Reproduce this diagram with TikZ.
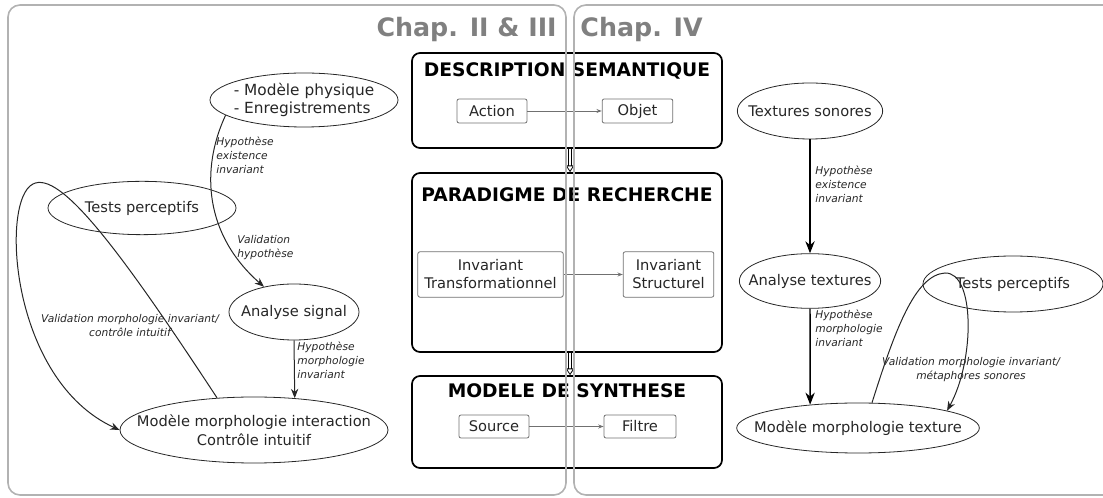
\documentclass[tikz,border=0pt]{standalone}
\usepackage{fontspec}
\setmainfont{DejaVu Sans}[ItalicFont={DejaVu Sans Oblique},BoldFont={DejaVu Sans Bold}]
\usepackage{tikz}
\usepackage{xcolor}
\usetikzlibrary{shapes.geometric,arrows.meta,positioning}
\definecolor{panelgray}{HTML}{B2B2B2}
\definecolor{chapgray}{HTML}{808080}
\definecolor{boxgray}{HTML}{707070}
\definecolor{inkgray}{HTML}{262626}
\tikzstyle{panel} = [draw=panelgray, line width=1.2pt, rounded corners=9pt]
\tikzstyle{chap} = [font=\fontsize{19}{22}\selectfont\bfseries, text=chapgray, inner sep=0pt]
\tikzstyle{bloc} = [rectangle, draw, line width=1.3pt, rounded corners=6pt]
\tikzstyle{titre} = [font=\fontsize{14}{16}\selectfont\bfseries, inner sep=0pt]
\tikzstyle{case} = [rectangle, draw=boxgray, rounded corners=1.5pt, minimum height=18pt, font=\fontsize{11}{13.5}\selectfont, text=inkgray, align=center, inner sep=1pt]
\tikzstyle{bulle} = [ellipse, draw=inkgray, inner xsep=-40pt, inner ysep=-10pt, font=\fontsize{11}{13.5}\selectfont, text=inkgray]
\tikzstyle{hyp} = [font=\fontsize{8}{10.5}\selectfont\itshape, text=inkgray, inner sep=0pt]
\tikzstyle{fleche} = [-{Stealth[length=7pt,width=5.5pt]}, draw=inkgray, line width=0.75pt]
\tikzstyle{grosse} = [-{Stealth[length=9pt,width=7pt]}, draw=black, line width=1.1pt]
\tikzstyle{petite} = [-{Stealth[length=4pt,width=3pt]}, draw=boxgray, line width=0.6pt]
\tikzstyle{creux} = [draw=black, double=white, double distance=2.2pt, line width=0.6pt, -{Triangle[open, length=5pt, width=6.5pt, line width=0.6pt]}]

\begin{document}
\begin{tikzpicture}[x=0.75pt,y=-0.75pt,>=Stealth,semithick]
  \useasboundingbox (0,0) rectangle (1103,498);

  \node[bloc, minimum width=232.5pt, minimum height=71.25pt] (desc) at (567,100.5) {};
  \node[bloc, minimum width=232.5pt, minimum height=134.25pt] (para) at (567,262.5) {};
  \node[bloc, minimum width=232.5pt, minimum height=69pt] (synth) at (567,422) {};
  \node[titre, anchor=base] (desc_T) at (567,77) {DESCRIPTION SEMANTIQUE};
  \node[titre, anchor=base] (para_T) at (567,201.5) {PARADIGME DE RECHERCHE};
  \node[titre, anchor=base] (synth_T) at (567,398) {MODELE DE SYNTHESE};

  \node[case, minimum width=52.5pt] (action) at (492,111) {Action};
  \node[case, minimum width=53pt] (objet) at (637.5,111) {Objet};
  \node[case, minimum width=109pt, minimum height=34pt] (inv_T) at (490.5,274.5) {Invariant\\Transformationnel};
  \node[case, minimum width=68pt, minimum height=34pt] (inv_S) at (668.5,274.5) {Invariant\\Structurel};
  \node[case, minimum width=52.5pt, minimum height=17.25pt] (source) at (494,426.5) {Source};
  \node[case, minimum width=54pt, minimum height=17.25pt] (filtre) at (640,426.5) {Filtre};

  \path (action) edge[petite] (objet);
  \path (inv_T) edge[petite] (inv_S);
  \path (source) edge[petite] (filtre);
  \draw[creux] ([xshift=2.25pt]desc.south) -- ([xshift=2.25pt]para.north);
  \draw[creux] ([xshift=2.25pt]para.south) -- ([xshift=2.25pt]synth.north);

  \node[bulle, minimum width=141pt, minimum height=40.5pt, align=left, font=\fontsize{11.5}{13.5}\selectfont] (phys) at (304,100) {- Modèle physique\\- Enregistrements};
  \node[bulle, minimum width=141pt, minimum height=40pt] (tests_L) at (142,208) {Tests perceptifs};
  \node[bulle, minimum width=97.5pt, minimum height=42pt] (ana_S) at (294,312) {Analyse signal};
  \node[bulle, minimum width=201pt, minimum height=49.5pt, align=center, font=\fontsize{11}{14}\selectfont] (morpho_I) at (254,430) {Modèle morphologie interaction\\Contrôle intuitif};

  \draw[fleche] (phys.191) .. controls (200,170) and (205,235) .. (ana_S.140);
  \path (ana_S.south) edge[fleche] (morpho_I.38);
  \draw[fleche] (morpho_I.139) .. controls (120,250) and (60,170) .. (33,184) .. controls (0,200) and (10,380) .. (morpho_I.west);
  \node[hyp, anchor=north west, align=left] (h_exist_L) at (216,137) {Hypothèse\\existence\\invariant};
  \node[hyp, anchor=north west, align=left] (h_valid_L) at (237,235) {Validation\\hypothèse};
  \node[hyp, anchor=north west, align=left] (h_morpho_L) at (297,342) {Hypothèse\\morphologie\\invariant};
  \node[hyp, align=center] (valid_L) at (130,326) {Validation morphologie invariant/\\contrôle intuitif};

  \node[bulle, minimum width=109pt, minimum height=42pt] (textures) at (810,111) {Textures sonores};
  \node[bulle, minimum width=106pt, minimum height=41pt] (ana_T) at (810,281) {Analyse textures};
  \node[bulle, minimum width=135pt, minimum height=42pt] (tests_R) at (1013,284) {Tests perceptifs};
  \node[bulle, minimum width=182pt, minimum height=37.5pt] (morpho_T) at (858,428) {Modèle morphologie texture};

  \path (textures) edge[grosse] (ana_T);
  \path (ana_T.south) edge[grosse] (morpho_T.154);
  \draw[fleche] (morpho_T.61) .. controls (895,330) and (915,275) .. (945,273) .. controls (975,272) and (975,360) .. (morpho_T.11);
  \node[hyp, anchor=north west, align=left] (h_exist_R) at (815,166) {Hypothèse\\existence\\invariant};
  \node[hyp, anchor=north west, align=left] (h_morpho_R) at (815,310) {Hypothèse\\morphologie\\invariant};
  \node[hyp, align=center] (valid_R) at (971,369.5) {Validation morphologie invariant/\\métaphores sonores};

  \draw[panel] (8,5) rectangle (566,495);
  \draw[panel] (574,5) rectangle (1125,495);
  \node[chap, anchor=base east] (chap_L) at (557,37) {Chap. II \& III};
  \node[chap, anchor=base west] (chap_R) at (580,37) {Chap. IV};
\end{tikzpicture}
\end{document}
